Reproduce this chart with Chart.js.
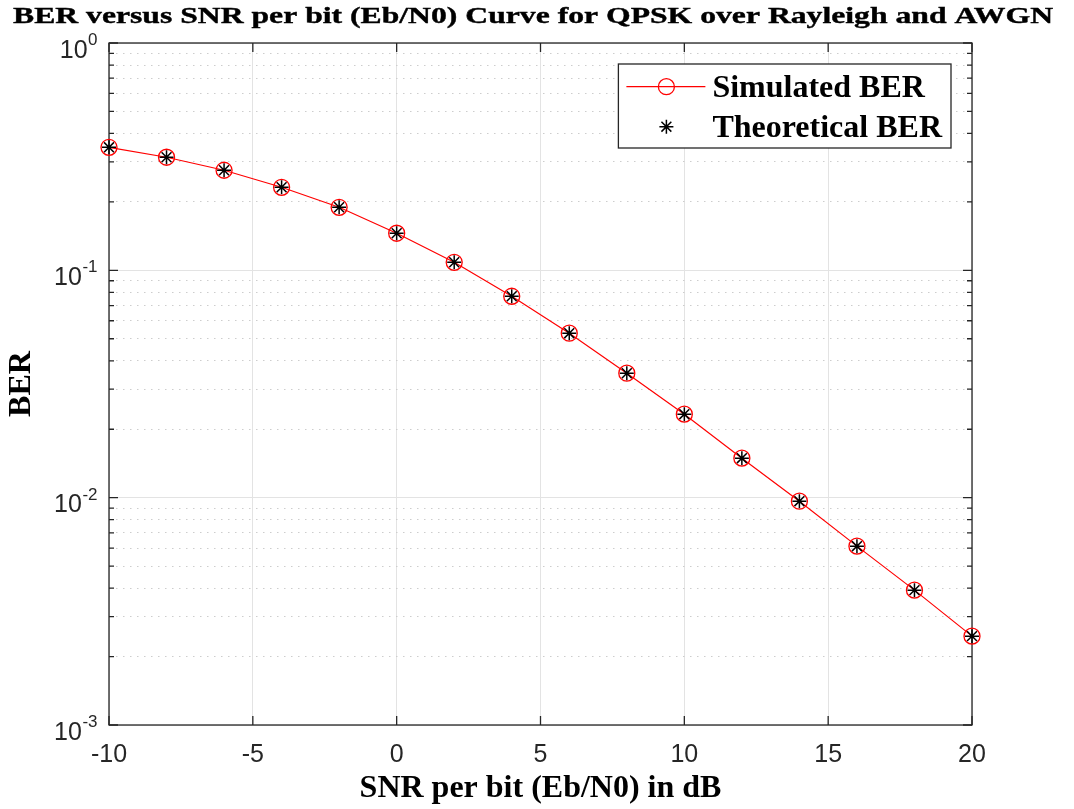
<!DOCTYPE html>
<html><head><meta charset="utf-8">
<script src="https://cdn.jsdelivr.net/npm/chart.js@4/dist/chart.umd.min.js"></script>
<style>html,body{margin:0;padding:0;background:#fff;}#wrap{width:1074px;height:809px;}</style>
</head><body><div id="wrap"><canvas id="c" width="1074" height="809"></canvas></div>
<script>
const chartTitle = 'BER versus SNR per bit (Eb/N0) Curve for QPSK over Rayleigh and AWGN';
const xAxisLabel = 'SNR per bit (Eb/N0) in dB';
const yAxisLabel = 'BER';
const seriesNames = ['Simulated BER', 'Theoretical BER'];
const snrDb = [-10, -8, -6, -4, -2, 0, 2, 4, 6, 8, 10, 12, 14, 16, 18, 20];
const simulatedBer = [0.3477, 0.3144, 0.2756, 0.2319, 0.1894, 0.1456, 0.1085, 0.0769, 0.0529, 0.03527, 0.02330, 0.01492, 0.00965, 0.00612, 0.00392, 0.00246];
const theoreticalBer = [0.3477, 0.3144, 0.2756, 0.2319, 0.1894, 0.1456, 0.1085, 0.0769, 0.0529, 0.03527, 0.02330, 0.01492, 0.00965, 0.00612, 0.00392, 0.00246];
const xTickValues = [-10, -5, 0, 5, 10, 15, 20];
const yDecadeExponents = [0, -1, -2, -3];
const yMinorMultipliers = [2, 3, 4, 5, 6, 7, 8, 9];

const AXIS = '#262626';
const SANS = '"Liberation Sans", Arial, sans-serif';
const SERIF = '"Liberation Serif", "Times New Roman", serif';

const axesPlugin = {
  id: 'matlabAxes',
  beforeDatasetsDraw(chart) {
    const {ctx, chartArea: a, scales: {x, y}} = chart;
    ctx.save();
    ctx.strokeStyle = AXIS;
    ctx.lineWidth = 1.3;
    ctx.beginPath();
    xTickValues.forEach(v => {
      const px = x.getPixelForValue(v);
      ctx.moveTo(px, a.bottom); ctx.lineTo(px, a.bottom - 9);
      ctx.moveTo(px, a.top); ctx.lineTo(px, a.top + 9);
    });
    y.ticks.forEach(t => {
      const py = y.getPixelForValue(t.value);
      const len = t.major ? 9 : 5;
      ctx.moveTo(a.left, py); ctx.lineTo(a.left + len, py);
      ctx.moveTo(a.right, py); ctx.lineTo(a.right - len, py);
    });
    ctx.stroke();
    ctx.strokeRect(a.left, a.top, a.right - a.left, a.bottom - a.top);
    ctx.fillStyle = AXIS;
    ctx.textBaseline = 'alphabetic';
    ctx.textAlign = 'left';
    yDecadeExponents.forEach(e => {
      const py = y.getPixelForValue(Math.pow(10, e));
      ctx.font = '25px ' + SANS;
      const w10 = ctx.measureText('10').width;
      ctx.font = '17px ' + SANS;
      const es = String(e);
      const we = ctx.measureText(es).width;
      const x0 = a.left - 12 - (w10 + we);
      ctx.font = '25px ' + SANS;
      ctx.fillText('10', x0, py + 14.5);
      ctx.font = '17px ' + SANS;
      ctx.fillText(es, x0 + w10 + 0.5, py + 2);
    });
    ctx.restore();
  },
  afterDraw(chart) {
    const {ctx, chartArea: a} = chart;
    ctx.save();
    ctx.font = 'bold 24px ' + SERIF;
    ctx.fillStyle = '#000';
    ctx.strokeStyle = '#000';
    ctx.lineWidth = 0.4;
    ctx.textAlign = 'center';
    ctx.textBaseline = 'alphabetic';
    const tw = ctx.measureText(chartTitle).width;
    const sx = 1040 / tw;
    ctx.translate(533, 22.7);
    ctx.scale(sx, 1);
    ctx.fillText(chartTitle, 0, 0);
    ctx.strokeText(chartTitle, 0, 0);
    ctx.restore();

    ctx.save();
    ctx.font = 'bold 32px ' + SERIF;
    const maxW = Math.max(...seriesNames.map(n => ctx.measureText(n).width));
    const bw = 94 + maxW + 9, bh = 84;
    const bx = a.right - 21 - bw, by = a.top + 21;
    ctx.fillStyle = '#fff';
    ctx.fillRect(bx, by, bw, bh);
    ctx.strokeStyle = AXIS;
    ctx.lineWidth = 1.3;
    ctx.strokeRect(bx, by, bw, bh);
    const rows = [by + 22.7, by + 62.7];
    chart.data.datasets.forEach((ds, i) => {
      const cy = rows[i];
      if (ds.showLine) {
        ctx.strokeStyle = ds.borderColor;
        ctx.lineWidth = ds.borderWidth;
        ctx.beginPath();
        ctx.moveTo(bx + 8, cy); ctx.lineTo(bx + 87, cy);
        ctx.stroke();
      }
      ctx.strokeStyle = ds.pointBorderColor;
      ctx.fillStyle = ds.pointBackgroundColor;
      ctx.lineWidth = ds.pointBorderWidth;
      Chart.helpers.drawPoint(ctx, {pointStyle: ds.pointStyle, radius: ds.pointRadius, borderWidth: ds.pointBorderWidth, rotation: 0}, bx + 48, cy);
      ctx.fillStyle = '#000';
      ctx.textAlign = 'left';
      ctx.textBaseline = 'alphabetic';
      ctx.font = 'bold 32px ' + SERIF;
      ctx.fillText(ds.label, bx + 94, cy + 10.5);
    });
    ctx.restore();
  }
};

new Chart(document.getElementById('c'), {
  type: 'scatter',
  data: {
    datasets: [
      {
        label: seriesNames[0],
        data: snrDb.map((v, i) => ({x: v, y: simulatedBer[i]})),
        showLine: true,
        borderColor: '#ff0000',
        borderWidth: 1.2,
        pointStyle: 'circle',
        pointRadius: 8,
        pointBorderWidth: 1.3,
        pointBorderColor: '#ff0000',
        pointBackgroundColor: 'rgba(0,0,0,0)',
        backgroundColor: 'rgba(0,0,0,0)',
        tension: 0,
        clip: false,
        order: 2
      },
      {
        label: seriesNames[1],
        data: snrDb.map((v, i) => ({x: v, y: theoreticalBer[i]})),
        showLine: false,
        pointStyle: 'star',
        pointRadius: 7,
        pointBorderWidth: 1.5,
        pointBorderColor: '#000000',
        pointBackgroundColor: '#000000',
        borderColor: '#000000',
        clip: false,
        order: 1
      }
    ]
  },
  options: {
    responsive: false,
    animation: false,
    devicePixelRatio: 1,
    layout: {padding: {top: 43, right: 102, left: 0, bottom: 0}},
    plugins: {legend: {display: false}, title: {display: false}, tooltip: {enabled: false}},
    events: [],
    scales: {
      x: {
        type: 'linear', min: -10, max: 20,
        afterBuildTicks: s => { s.ticks = xTickValues.map(v => ({value: v})); },
        afterFit: s => { s.height = 84; },
        ticks: {font: {family: SANS, size: 25, lineHeight: 1}, color: AXIS, padding: 18, maxRotation: 0, autoSkip: false},
        grid: {color: '#e3e3e3', lineWidth: 1, drawTicks: false},
        border: {display: false},
        title: {display: true, text: xAxisLabel, color: '#000', font: {family: SERIF, size: 32, weight: 'bold', lineHeight: 1}, padding: {top: 0, bottom: 4}}
      },
      y: {
        type: 'logarithmic', min: 0.001, max: 1,
        afterBuildTicks: s => {
          const t = [];
          yDecadeExponents.slice().sort((p, q) => p - q).forEach(e => {
            t.push({value: Math.pow(10, e), major: true});
            if (e < 0) yMinorMultipliers.forEach(m => t.push({value: m * Math.pow(10, e), major: false}));
          });
          s.ticks = t;
        },
        afterFit: s => { s.width = 109; },
        ticks: {display: false},
        grid: {color: c => (c.tick && c.tick.major) ? '#e3e3e3' : '#cdcdcd', lineWidth: 1, drawTicks: false},
        border: {display: false, dash: c => (c.tick && !c.tick.major) ? [1.5, 5.5] : []},
        title: {display: true, text: yAxisLabel, color: '#000', font: {family: SERIF, size: 32, weight: 'bold', lineHeight: 1}, padding: {top: 6, bottom: 0}}
      }
    }
  },
  plugins: [axesPlugin]
});
</script>
</body></html>
